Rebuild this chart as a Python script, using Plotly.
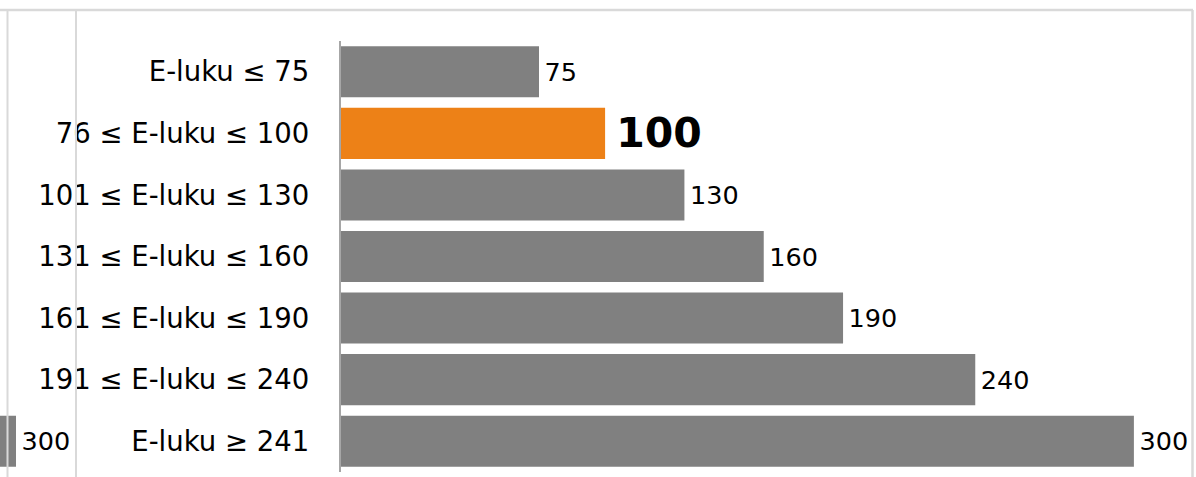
import plotly.graph_objects as go

categories = [
    "E-luku ≤ 75",
    "76 ≤ E-luku ≤ 100",
    "101 ≤ E-luku ≤ 130",
    "131 ≤ E-luku ≤ 160",
    "161 ≤ E-luku ≤ 190",
    "191 ≤ E-luku ≤ 240",
    "E-luku ≥ 241",
]
values = [75, 100, 130, 160, 190, 240, 300]
highlight_category = "76 ≤ E-luku ≤ 100"

# fragment of the neighbouring chart visible at the left edge
neighbour_category = ["E-luku ≥ 241"]
neighbour_values = [300]

W, H = 1196, 477
GRAY = "#808080"
ORANGE = "#ED8117"
BORDER = "#d9d9d9"
FONT = "DejaVu Sans"
PAD = "\u200a"

colors = [ORANGE if c == highlight_category else GRAY for c in categories]
texts = [f"<b>{PAD}{PAD}{v}</b>" if c == highlight_category else f"{PAD}{v}" for c, v in zip(categories, values)]
sizes = [41 if c == highlight_category else 25.5 for c in categories]

fig = go.Figure()
fig.add_trace(go.Bar(
    y=categories, x=values, orientation="h",
    marker=dict(color=colors, line=dict(width=0)),
    text=texts, textposition="outside", cliponaxis=False, constraintext="none",
    textfont=dict(family=FONT, size=sizes, color="black"),
    xaxis="x", yaxis="y", showlegend=False, hoverinfo="skip",
))
fig.add_trace(go.Bar(
    y=neighbour_category, x=neighbour_values, orientation="h",
    marker=dict(color=GRAY, line=dict(width=0)),
    text=[f"{PAD}{v}" for v in neighbour_values], textposition="outside", cliponaxis=False,
    constraintext="none",
    textfont=dict(family=FONT, size=25.5, color="black"),
    xaxis="x2", yaxis="y", showlegend=False, hoverinfo="skip",
))

x0_px, x1_px = 340.7, 1190
px_per_unit = 2.644
fig.update_layout(
    width=W, height=H,
    margin=dict(l=0, r=0, t=0, b=0),
    paper_bgcolor="white", plot_bgcolor="rgba(0,0,0,0)",
    bargap=0.17,
    font=dict(family=FONT, size=27.5, color="black"),
    xaxis=dict(
        domain=[x0_px / W, x1_px / W],
        range=[0, (x1_px - x0_px) / px_per_unit],
        visible=False, showgrid=False, zeroline=False, anchor="y",
    ),
    xaxis2=dict(
        domain=[0, 72 / W],
        range=[300 - 16 / px_per_unit, 300 - 16 / px_per_unit + 72 / px_per_unit],
        visible=False, showgrid=False, zeroline=False, anchor="y",
    ),
    yaxis=dict(
        domain=[(H - 472) / H, (H - 41) / H],
        autorange="reversed",
        showline=True, linecolor="#a6a6a6", linewidth=2,
        showgrid=False, zeroline=False, ticks="",
        ticklabelstandoff=24,
        tickfont=dict(family=FONT, size=27.5, color="black"),
        anchor="x",
    ),
    shapes=[
        dict(type="line", xref="paper", yref="paper", x0=0, x1=1193 / W, y0=(H - 10) / H, y1=(H - 10) / H,
             line=dict(color=BORDER, width=2.5)),
        dict(type="line", xref="paper", yref="paper", x0=1192.5 / W, x1=1192.5 / W, y0=0, y1=(H - 10) / H,
             line=dict(color=BORDER, width=2.5)),
        dict(type="line", xref="paper", yref="paper", x0=7.5 / W, x1=7.5 / W, y0=0, y1=(H - 10) / H,
             line=dict(color=BORDER, width=2)),
        dict(type="line", xref="paper", yref="paper", x0=76 / W, x1=76 / W, y0=0, y1=(H - 10) / H,
             line=dict(color=BORDER, width=2)),
    ],
)

fig.write_html(
    "out.html",
    config={"displayModeBar": False},
    post_script="document.body.style.margin='0';document.body.style.overflow='hidden';",
)
